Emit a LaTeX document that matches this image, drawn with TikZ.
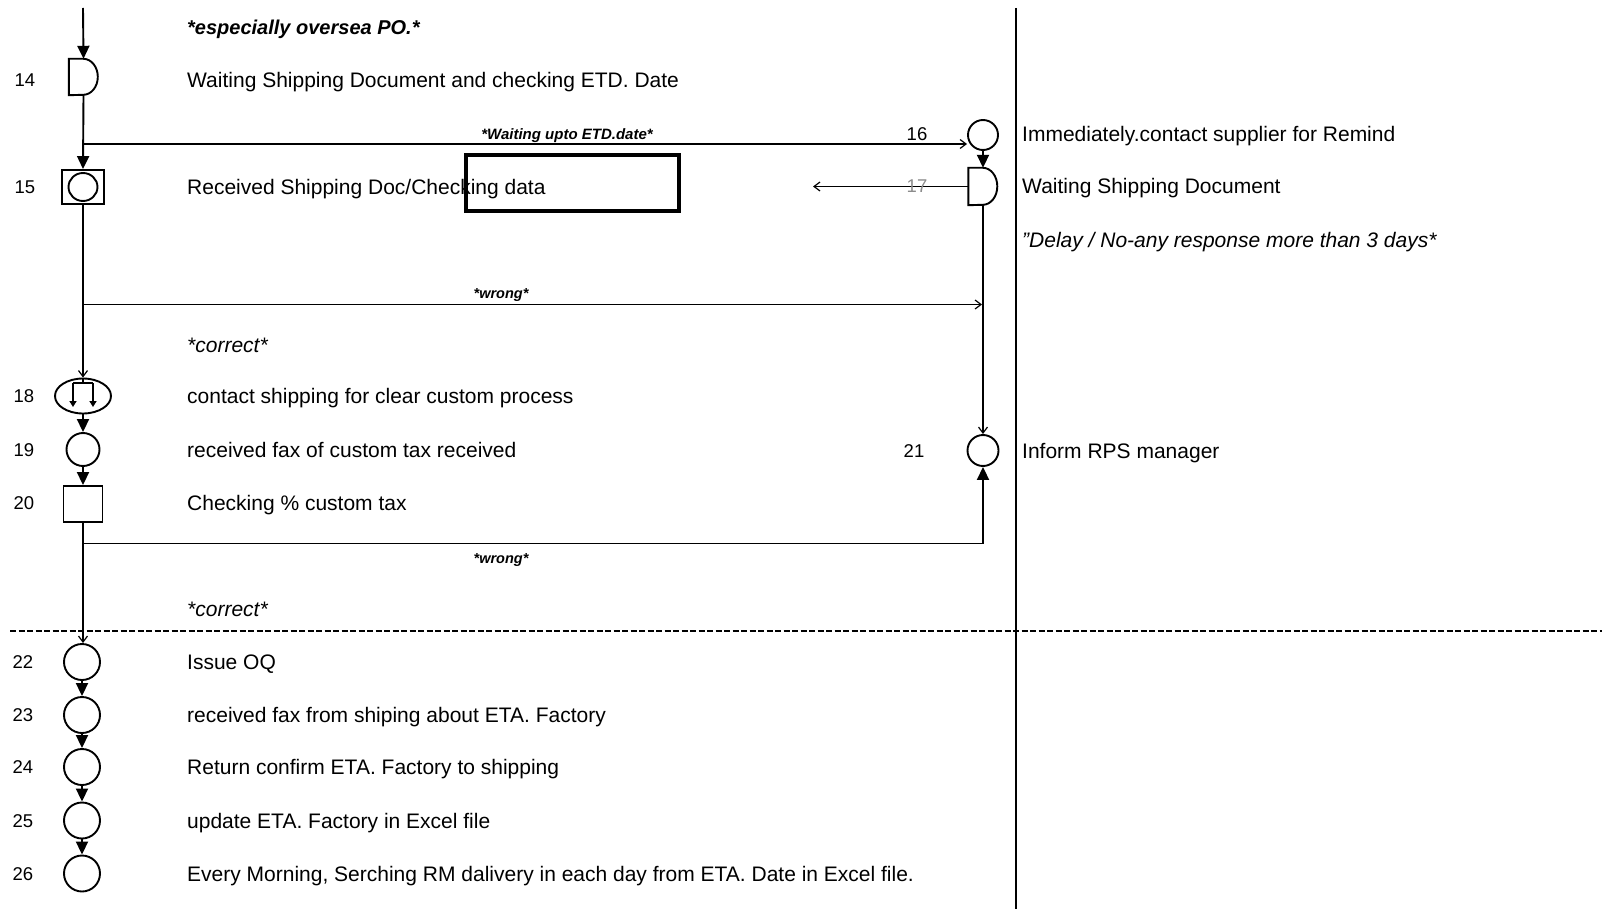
\documentclass[tikz,border=0pt]{standalone}
\usepackage{fontspec}
\setmainfont{Liberation Sans}
\usetikzlibrary{arrows.meta,calc,shapes.geometric}
\tikzset{
  shp/.style={draw, line width=1.9pt, inner sep=0pt},
  conn/.style={line width=1.9pt},
  arr/.style={conn, -{Triangle[length=13pt,width=12pt]}},
  farr/.style={conn, -{Straight Barb[length=6pt,width=9pt,line width=1.2pt]}},
  txt/.style={anchor=base west, inner sep=0pt, font=\fontsize{21}{25}\selectfont},
  itxt/.style={txt, font=\fontsize{21}{25}\selectfont\itshape},
  num/.style={anchor=base, inner sep=0pt, font=\fontsize{18.5}{22}\selectfont},
  lbl/.style={anchor=base, inner sep=0pt, font=\fontsize{15}{17}\selectfont\bfseries\itshape},
  sepline/.style={line width=1.2pt},
  hsep/.style={line width=1.3pt, dash pattern=on 6pt off 2.5pt},
  dshape/.style={inner sep=0pt, minimum width=29pt, minimum height=36pt},
}
\begin{document}
\begin{tikzpicture}[x=1pt,y=-1pt]
\useasboundingbox (0,0) rectangle (1602,909);

% separators
\coordinate (vs1) at (1016,8);
\coordinate (vs2) at (1016,909);
\coordinate (hs1) at (10,631);
\coordinate (hs2) at (1602,631);
\draw[sepline] (vs1) -- (vs2);
\draw[hsep] (hs1) -- (hs2);

% shapes
\coordinate (top) at (83,8);
\node[dshape] (n14) at (83.5,77) {};
\draw[shp] (n14.north west) -- ++(14.5,0) arc[start angle=-90,end angle=90,x radius=14.5,y radius=18] -- (n14.south west) -- cycle;

\node[shp, rectangle, minimum width=42pt, minimum height=34pt] (n15) at (83,187) {};
\draw[conn] (n15.center) ellipse [x radius=14.5, y radius=14];

\node[shp, circle, minimum size=30pt] (n16) at (983,135) {};
\node[dshape, minimum height=37pt] (n17) at (983,186.5) {};
\draw[shp] (n17.north west) -- ++(14.5,0) arc[start angle=-90,end angle=90,x radius=14.5,y radius=18.5] -- (n17.south west) -- cycle;

\node[shp, ellipse, minimum width=56pt, minimum height=35pt] (n18) at (83,396) {};
\coordinate (b1) at ($(n18.center)+(-10,-13)$);
\coordinate (b2) at ($(n18.center)+(10,-13)$);
\coordinate (b1e) at ($(n18.center)+(-10,11)$);
\coordinate (b2e) at ($(n18.center)+(10,11)$);
\draw[conn] (b1) -- (b2);
\draw[conn, -{Triangle[length=6pt,width=7pt]}] (b1) -- (b1e);
\draw[conn, -{Triangle[length=6pt,width=7pt]}] (b2) -- (b2e);
\draw[conn] (n18.north) -- ($(n18.center)+(0,-13)$);

\node[shp, circle, minimum size=33pt] (n19) at (83,449.5) {};
\node[shp, rectangle, minimum width=39pt, minimum height=36pt] (n20) at (83,504) {};
\node[shp, circle, minimum size=31pt] (n21) at (983,450.5) {};

\node[shp, circle, minimum size=36pt] (n22) at (82,662) {};
\node[shp, circle, minimum size=36pt] (n23) at (82,715) {};
\node[shp, circle, minimum size=36pt] (n24) at (82,767) {};
\node[shp, circle, minimum size=36pt] (n25) at (82,820.5) {};
\node[shp, circle, minimum size=36pt] (n26) at (82,873.5) {};

% connectors
\coordinate (j1) at (83,144);
\coordinate (j2) at (83,304.5);
\coordinate (w2) at (982,304.5);
\coordinate (j3) at (83,543.5);
\coordinate (c17) at (813,186.5);

\draw[arr] (top) -- (n14.north);
\draw[arr] (n14.south) -- (n15.north);
\draw[farr] (j1) -- (j1 -| n16.west);
\draw[arr] (n16.south) -- (n17.north);
\draw[farr] (n17.west) -- (c17);
\draw[farr] (n17.south) -- (n21.north);
\draw[farr] (j2) -- (w2);
\draw[farr] (n15.south) -- (n18.north);
\draw[arr] (n18.south) -- (n19.north);
\draw[arr] (n19.south) -- (n20.north);
\draw[farr] (n20.south) -- (j3) -- (j3 |- n22.north);
\draw[arr] (j3) -- (j3 -| n21.south) -- (n21.south);
\draw[arr] (n22.south) -- (n23.north);
\draw[arr] (n23.south) -- (n24.north);
\draw[arr] (n24.south) -- (n25.north);
\draw[arr] (n25.south) -- (n26.north);

% numbers
\node[num] (l14) at (25,86.5) {14};
\node[num] (l15) at (25,193.5) {15};
\node[num] (l16) at (917,140.5) {16};
\node[num, text=black!45] (l17) at (917,192.5) {17};
\node[num] (l18) at (24,402.5) {18};
\node[num] (l19) at (24,456) {19};
\node[num] (l20) at (24,509) {20};
\node[num] (l21) at (914,457) {21};
\node[num] (l22) at (23,668.5) {22};
\node[num] (l23) at (23,721.5) {23};
\node[num] (l24) at (23,773.5) {24};
\node[num] (l25) at (23,827) {25};
\node[num] (l26) at (23,880) {26};

% texts
\node[txt, font=\fontsize{20}{24}\selectfont\bfseries\itshape] (tpo) at (187,35) {*especially oversea PO.*};
\node[txt] (t14) at (187,87.5) {Waiting Shipping Document and checking ETD. Date};
\node[txt] (t15) at (187,194.5) {Received Shipping Doc/Checking data};
\node[itxt] (tc1) at (187,352.5) {*correct*};
\node[txt] (t18) at (187,403.5) {contact shipping for clear custom process};
\node[txt] (t19) at (187,457) {received fax of custom tax received};
\node[txt] (t20) at (187,510) {Checking \% custom tax};
\node[itxt] (tc2) at (187,616.5) {*correct*};
\node[txt] (t22) at (187,669.5) {Issue OQ};
\node[txt] (t23) at (187,722.5) {received fax from shiping about ETA. Factory};
\node[txt] (t24) at (187,774.5) {Return confirm ETA. Factory to shipping};
\node[txt] (t25) at (187,828) {update ETA. Factory in Excel file};
\node[txt] (t26) at (187,881) {Every Morning, Serching RM dalivery in each day from ETA. Date in Excel file.};

\node[txt] (t16) at (1022,141.5) {Immediately.contact supplier for Remind};
\node[txt] (t17) at (1022,193.5) {Waiting Shipping Document};
\node[itxt] (tdl) at (1022,247.5) {"Delay / No-any response more than 3 days*};
\node[txt] (t21) at (1022,458) {Inform RPS manager};

\node[lbl] (lw0) at (567,140) {*Waiting upto ETD.date*};
\node[lbl, font=\fontsize{14.5}{16}\selectfont\bfseries\itshape] (lw1) at (501,298) {*wrong*};
\node[lbl, font=\fontsize{14.5}{16}\selectfont\bfseries\itshape] (lw2) at (501,563) {*wrong*};

% bold frame
\node[draw, line width=3.5pt, inner sep=0pt, minimum width=213pt, minimum height=56pt] (box) at (572.5,183) {};
\end{tikzpicture}
\end{document}
